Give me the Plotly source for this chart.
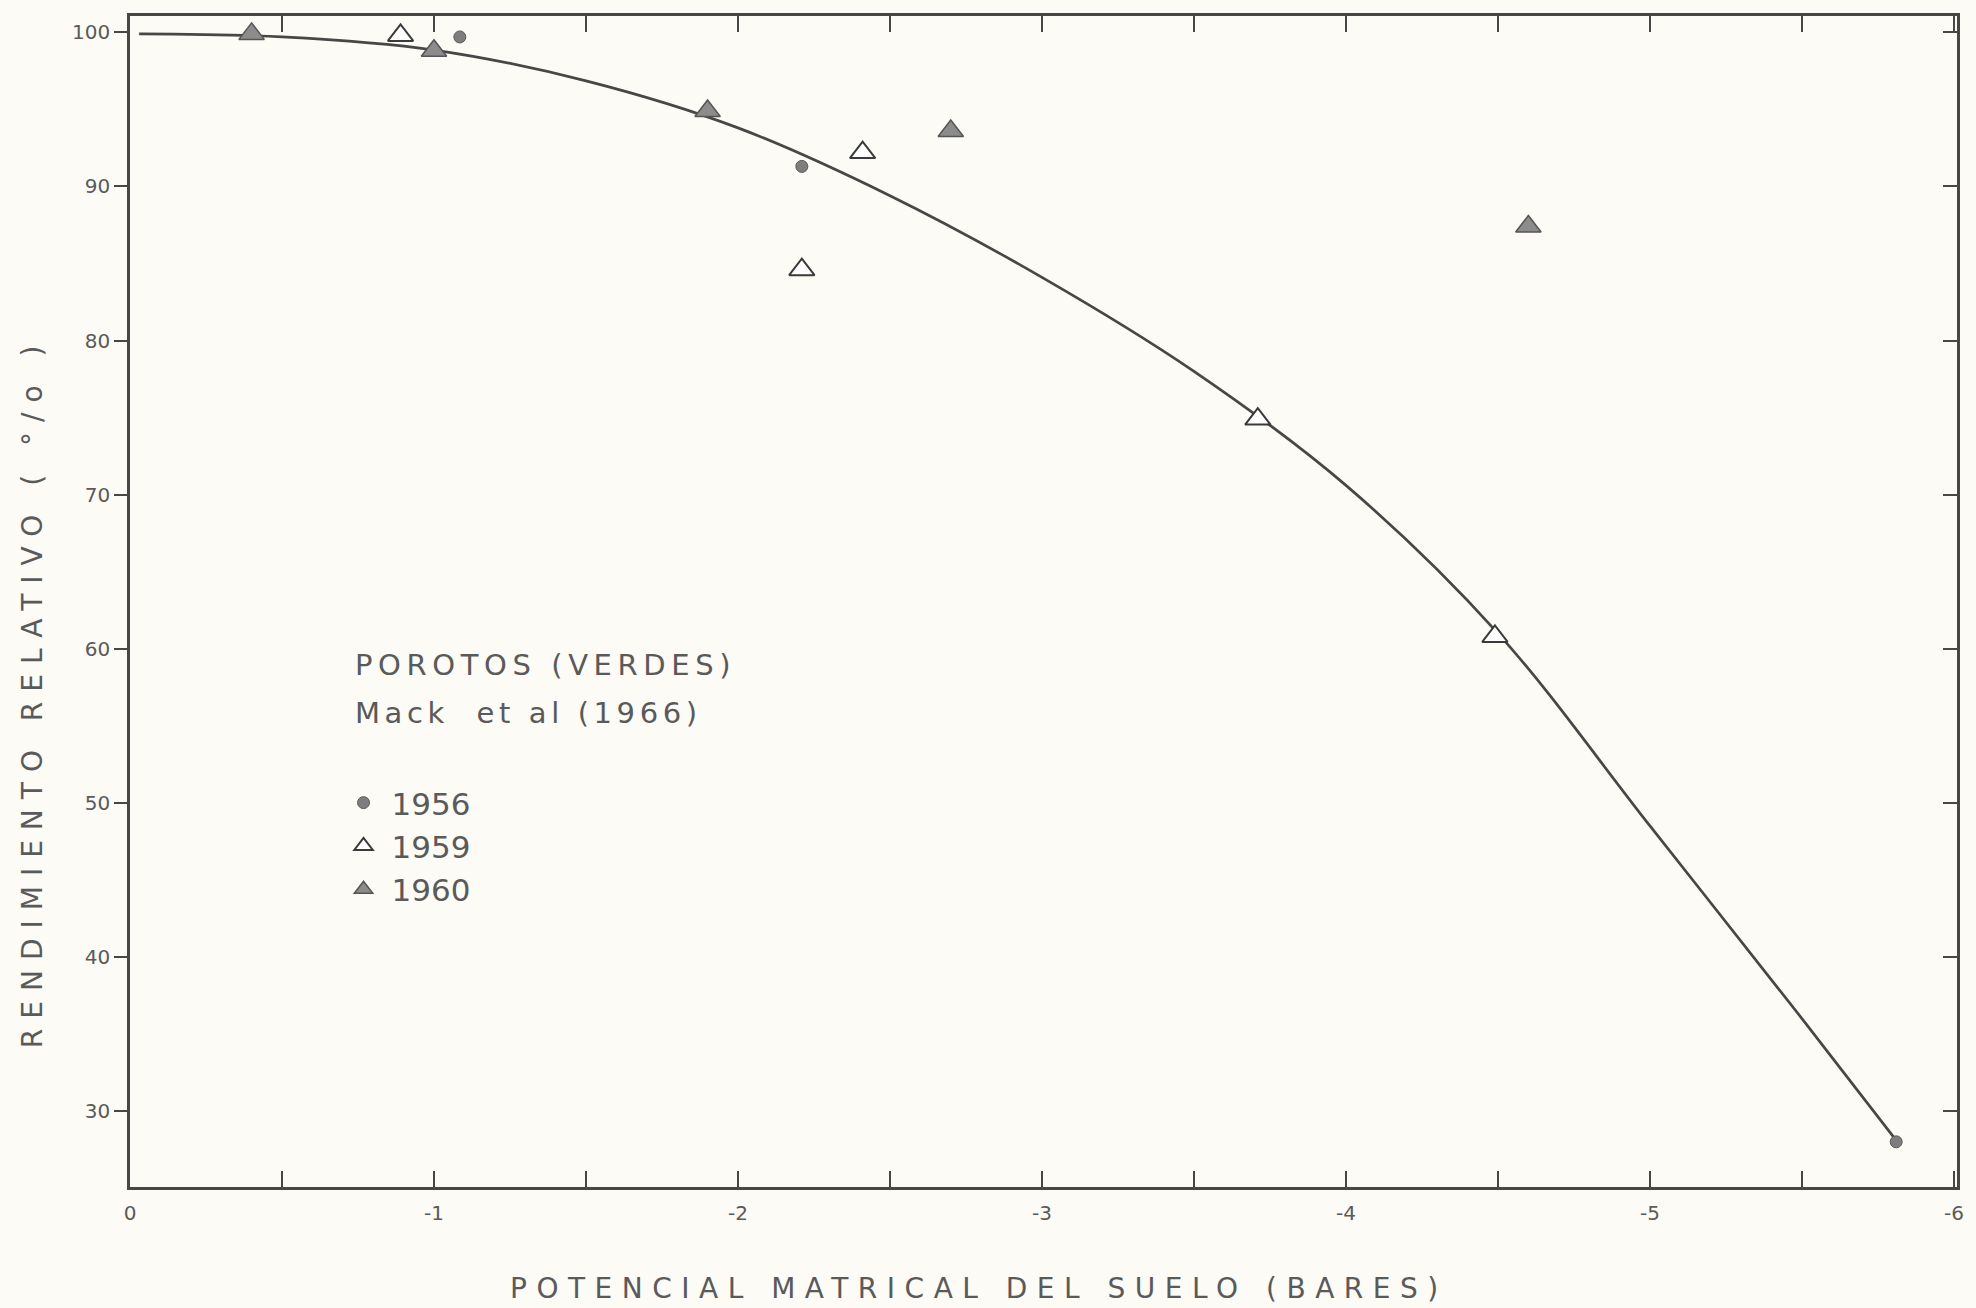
import plotly.graph_objects as go

# ---- data ----
x_1956 = [-1.085, -2.21, -5.81]
y_1956 = [99.7, 91.3, 28.0]

x_1959 = [-0.89, -2.21, -2.41, -3.71, -4.49]
y_1959 = [99.8, 84.6, 92.2, 74.9, 60.8]

x_1960 = [-0.40, -1.00, -1.90, -2.70, -4.60]
y_1960 = [99.9, 98.8, 94.9, 93.6, 87.4]

curve_x = [-0.03, -0.5, -1.0, -1.5, -2.0, -2.5, -3.0, -3.5, -4.0, -4.5, -5.0, -5.5, -5.81]
curve_y = [99.9, 99.7, 98.85, 96.85, 93.8, 89.4, 84.1, 78.0, 70.6, 61.0, 48.5, 36.0, 28.1]

x_ticks = [0, -1, -2, -3, -4, -5, -6]
x_ticktext = ["0", "-1", "-2", "-3", "-4", "-5", "-6"]
y_ticks = [30, 40, 50, 60, 70, 80, 90, 100]
y_ticktext = ["30", "40", "50", "60", "70", "80", "90", "100"]

INK = "#474747"
TXT = "#5a5a5a"
PAPER = "#fcfbf5"
FONT = "DejaVu Sans"

fig = go.Figure()

fig.add_trace(go.Scatter(
    x=curve_x, y=curve_y, mode="lines",
    line=dict(color=INK, width=2.7, shape="spline", smoothing=1.0),
    showlegend=False, hoverinfo="skip"))

fig.add_trace(go.Scatter(
    x=x_1956, y=y_1956, mode="markers", name="1956", legendgroup="a",
    marker=dict(symbol="circle", size=12, color="#7d7d7d",
                line=dict(color="#5a5a5a", width=1))))

fig.add_trace(go.Scatter(
    x=x_1959, y=y_1959, mode="markers", name="1959", legendgroup="b",
    marker=dict(symbol="triangle-up", size=22, color="#ffffff",
                line=dict(color="#3a3a3a", width=2))))

fig.add_trace(go.Scatter(
    x=x_1960, y=y_1960, mode="markers", name="1960", legendgroup="c",
    marker=dict(symbol="triangle-up", size=22, color="#8c8c8c",
                line=dict(color="#555555", width=1.5))))

# invisible trace to carry the right-hand axis
fig.add_trace(go.Scatter(x=[x_ticks[0]], y=[y_ticks[0]], yaxis="y2", mode="markers",
                         marker=dict(opacity=0), showlegend=False, hoverinfo="skip"))

YR = [25.07, 101.06]

fig.update_layout(
    width=1976, height=1308,
    margin=dict(l=130, r=16, t=16, b=121),
    paper_bgcolor=PAPER, plot_bgcolor=PAPER,
    font=dict(family=FONT, color=TXT),
    xaxis=dict(
        range=[0, -6.01], tickvals=x_ticks, ticktext=x_ticktext,
        ticks="inside", ticklen=16, tickwidth=2, tickcolor=INK,
        minor=dict(dtick=0.5, tick0=0, ticks="inside", ticklen=16, tickwidth=2, tickcolor=INK),
        showline=True, linecolor=INK, linewidth=2.5, mirror="ticks",
        showgrid=False, zeroline=False,
        tickfont=dict(size=20, color=TXT), ticklabelstandoff=6),
    yaxis=dict(
        range=YR, tickvals=y_ticks, ticktext=y_ticktext,
        ticks="outside", ticklen=13, tickwidth=2, tickcolor=INK,
        showline=True, linecolor=INK, linewidth=2.5, mirror=True,
        showgrid=False, zeroline=False,
        tickfont=dict(size=20, color=TXT)),
    yaxis2=dict(
        range=YR, tickvals=y_ticks, overlaying="y", side="right",
        ticks="inside", ticklen=14, tickwidth=2, tickcolor=INK,
        showticklabels=False, showgrid=False, zeroline=False, showline=False),
    legend=dict(
        x=0.1125, y=0.351, xanchor="left", yanchor="top",
        bgcolor="rgba(0,0,0,0)", font=dict(size=31, color=TXT, family=FONT),
        traceorder="normal", tracegroupgap=2, itemsizing="trace", itemwidth=46),
    showlegend=True,
)

annotations = [
    dict(text='<span style="letter-spacing:9.5px">POTENCIAL MATRICAL DEL SUELO (BARES)</span>',
         x=980, y=1288),
    dict(text='<span style="letter-spacing:10px">RENDIMIENTO RELATIVO ( °/o )</span>',
         x=32, y=692, textangle=-90),
]
for a in annotations:
    fig.add_annotation(
        text=a["text"], xref="paper", yref="paper",
        x=(a["x"] - 130) / 1830, y=(1187 - a["y"]) / 1171,
        xanchor="center", yanchor="middle", showarrow=False,
        textangle=a.get("textangle", 0),
        font=dict(size=28, color=TXT, family=FONT))

for txt, yy in [('<span style="letter-spacing:5.6px">POROTOS (VERDES)</span>', 665),
                ('<span style="letter-spacing:4.6px">Mack  et al (1966)</span>', 713)]:
    fig.add_annotation(
        text=txt, xref="paper", yref="paper",
        x=(353 - 130) / 1830, y=(1187 - yy) / 1171,
        xanchor="left", yanchor="middle", showarrow=False,
        font=dict(size=29, color=TXT, family=FONT))

fig.write_html("out.html")
